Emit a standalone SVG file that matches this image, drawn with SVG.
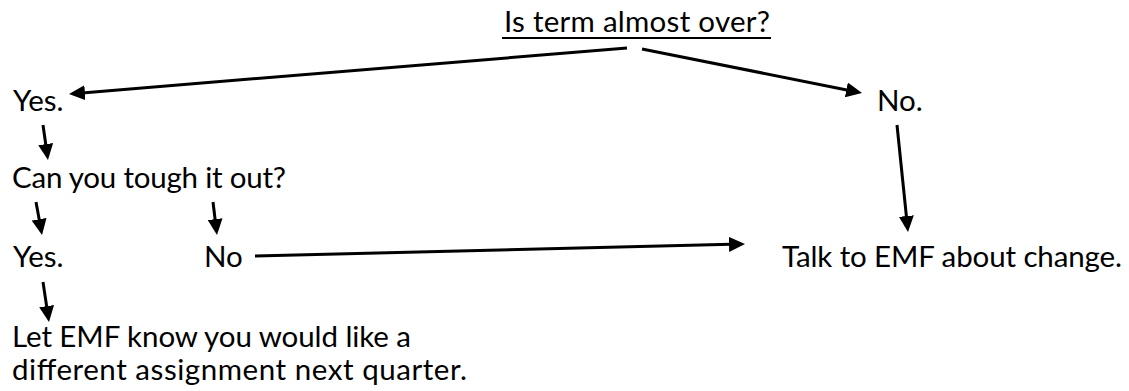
<svg xmlns="http://www.w3.org/2000/svg" width="1129" height="391" viewBox="0 0 1129 391">
<style>
text{font-family:Lato,"Liberation Sans",sans-serif;font-size:29.5px;fill:#000}
.c{stroke:#000;stroke-width:3;fill:none;marker-end:url(#ah)}
</style>
<defs>
<marker id="ah" markerUnits="userSpaceOnUse" markerWidth="16" markerHeight="15" refX="12" refY="7.5" orient="auto">
<path d="M0,0 L16,7.5 L0,15 Z" fill="#000"/>
</marker>
</defs>
<rect width="1129" height="391" fill="#fff"/>
<g id="q1"><text x="504" y="32" textLength="266">Is term almost over?</text><rect x="502" y="37" width="269" height="2" fill="#000"/></g>
<g id="yes1"><text x="13" y="111">Yes.</text></g>
<g id="no1"><text x="877" y="111">No.</text></g>
<g id="q2"><text x="12" y="188" textLength="274">Can you tough it out?</text></g>
<g id="yes2"><text x="13" y="267">Yes.</text></g>
<g id="no2"><text x="204" y="267">No</text></g>
<g id="talk"><text x="782" y="267" textLength="340">Talk to EMF about change.</text></g>
<g id="let"><text x="12" y="347" textLength="399">Let EMF know you would like a</text><text x="12" y="380" textLength="455">different assignment next quarter.</text></g>
<g id="connectors">
<line class="c" x1="627" y1="48" x2="73" y2="93.7"/>
<line class="c" x1="642" y1="49" x2="858.1" y2="92.2"/>
<line class="c" x1="43" y1="125" x2="47.4" y2="156"/>
<line class="c" x1="897" y1="125" x2="907.6" y2="228"/>
<line class="c" x1="36" y1="202" x2="41.3" y2="231.1"/>
<line class="c" x1="213" y1="202" x2="216.5" y2="231"/>
<line class="c" x1="255" y1="256" x2="741" y2="244.1"/>
<line class="c" x1="43" y1="282" x2="48.4" y2="318"/>
</g>
</svg>
